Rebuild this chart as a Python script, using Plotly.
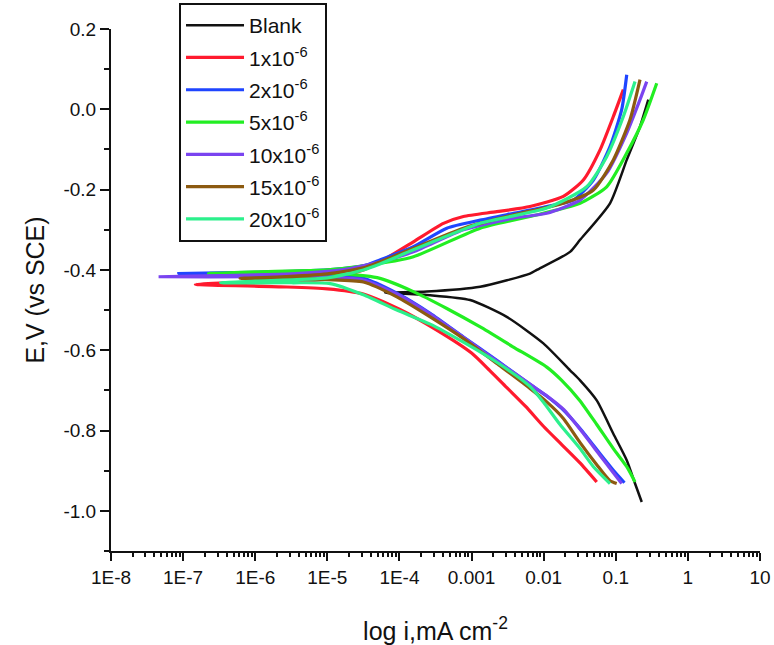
import numpy as np
import plotly.graph_objects as go

# Tafel curves: log10(i / mA cm^-2) and E (V vs SCE),
# ordered from the cathodic end, through Ecorr, up the anodic branch
blank_logi = [-0.64, -0.733, -0.848, -1.034, -1.264, -1.495, -1.634, -2.004, -2.512, -3.02, -3.574, -4.2,
              -3.62, -2.88, -2.19, -2.096, -1.634, -1.495, -1.08, -0.848, -0.664, -0.549]
blank_e = [-0.978, -0.932, -0.874, -0.808, -0.725, -0.675, -0.65, -0.583, -0.517, -0.475, -0.463, -0.457,
           -0.454, -0.442, -0.409, -0.40, -0.355, -0.325, -0.234, -0.126, -0.043, 0.024]

c1_logi = [-1.264, -1.5, -1.75, -2.0, -2.25, -2.5, -2.75, -3.0, -3.5, -4.0, -4.5, -5.0, -5.65, -6.83,
           -6.5, -5.5, -4.9, -4.5, -4.22, -3.806, -3.39, -3.113, -2.65, -2.19, -1.727, -1.45, -1.218, -1.034, -0.895]
c1_e = [-0.928, -0.88, -0.835, -0.79, -0.74, -0.695, -0.65, -0.607, -0.548, -0.498, -0.46, -0.447, -0.442, -0.436,
        -0.433, -0.43, -0.42, -0.40, -0.375, -0.33, -0.284, -0.267, -0.255, -0.242, -0.217, -0.176, -0.101, -0.018, 0.049]

c2_logi = [-0.88, -1.034, -1.218, -1.495, -1.75, -1.95, -2.19, -2.65, -3.113, -3.574, -4.036, -4.5, -5.0, -5.47, -7.06,
           -6.0, -5.0, -4.5, -4.27, -3.806, -3.343, -2.88, -2.42, -1.957, -1.588, -1.31, -1.08, -0.918, -0.848]
c2_e = [-0.93, -0.899, -0.858, -0.795, -0.745, -0.715, -0.685, -0.625, -0.567, -0.508, -0.458, -0.421, -0.412, -0.41, -0.409,
        -0.406, -0.40, -0.39, -0.375, -0.342, -0.296, -0.276, -0.259, -0.242, -0.226, -0.176, -0.093, -0.001, 0.086]

c5_logi = [-0.733, -0.848, -1.034, -1.264, -1.5, -1.75, -1.957, -2.42, -2.88, -3.343, -3.806, -4.27, -4.8, -5.5, -6.647,
           -6.0, -5.0, -4.5, -3.806, -2.88, -2.19, -1.495, -1.126, -0.848, -0.618, -0.432]
c5_e = [-0.928, -0.89, -0.845, -0.785, -0.725, -0.675, -0.642, -0.592, -0.542, -0.496, -0.454, -0.421, -0.41, -0.408, -0.409,
        -0.405, -0.40, -0.39, -0.367, -0.296, -0.267, -0.234, -0.193, -0.109, -0.026, 0.065]

c10_logi = [-0.918, -1.034, -1.218, -1.495, -1.72, -1.93, -2.17, -2.65, -3.113, -3.574, -4.036, -4.5, -5.0, -6.0, -7.34,
            -6.5, -5.5, -4.8, -4.27, -3.806, -3.113, -2.42, -1.957, -1.495, -1.126, -0.848, -0.664, -0.571]
c10_e = [-0.932, -0.905, -0.862, -0.797, -0.748, -0.717, -0.687, -0.627, -0.568, -0.51, -0.46, -0.425, -0.418, -0.417, -0.417,
         -0.414, -0.41, -0.40, -0.38, -0.355, -0.30, -0.271, -0.259, -0.226, -0.159, -0.059, 0.024, 0.069]

c15_logi = [-0.987, -1.08, -1.264, -1.495, -1.727, -1.95, -2.19, -2.65, -3.113, -3.574, -4.036, -4.5, -5.0, -5.5, -6.21,
            -5.7, -5.0, -4.5, -4.27, -3.806, -3.113, -2.42, -1.727, -1.31, -1.034, -0.803, -0.664]
c15_e = [-0.932, -0.925, -0.885, -0.83, -0.77, -0.73, -0.695, -0.633, -0.571, -0.517, -0.467, -0.43, -0.424, -0.421, -0.421,
         -0.418, -0.41, -0.395, -0.38, -0.346, -0.296, -0.263, -0.234, -0.201, -0.126, -0.026, 0.074]

c20_logi = [-1.08, -1.31, -1.495, -1.773, -2.0, -2.19, -2.65, -3.113, -3.574, -4.036, -4.5, -4.96, -5.5, -6.48,
            -6.0, -5.0, -4.5, -4.27, -3.806, -2.88, -1.957, -1.403, -1.126, -0.895, -0.733]
c20_e = [-0.932, -0.89, -0.845, -0.785, -0.73, -0.69, -0.63, -0.58, -0.535, -0.50, -0.462, -0.434, -0.432, -0.432,
         -0.428, -0.42, -0.40, -0.385, -0.35, -0.284, -0.246, -0.193, -0.118, -0.018, 0.069]

names = ["Blank", "1x10<sup>-6</sup>", "2x10<sup>-6</sup>", "5x10<sup>-6</sup>",
         "10x10<sup>-6</sup>", "15x10<sup>-6</sup>", "20x10<sup>-6</sup>"]
series = [(blank_logi, blank_e), (c1_logi, c1_e), (c2_logi, c2_e), (c5_logi, c5_e),
          (c10_logi, c10_e), (c15_logi, c15_e), (c20_logi, c20_e)]
colors = ["#111111", "#ff1a2e", "#1f45ff", "#22ee22", "#7a44f0", "#8c5a10", "#2cf08c"]

x_tickvals = [1e-8, 1e-7, 1e-6, 1e-5, 1e-4, 1e-3, 1e-2, 1e-1, 1, 10]
x_ticktext = ["1E-8", "1E-7", "1E-6", "1E-5", "1E-4", "0.001", "0.01", "0.1", "1", "10"]
y_tickvals = [0.2, 0.0, -0.2, -0.4, -0.6, -0.8, -1.0]
y_ticktext = ["0.2", "0.0", "-0.2", "-0.4", "-0.6", "-0.8", "-1.0"]

fig = go.Figure()
for k, (name, (lx, e), col) in enumerate(zip(names, series, colors)):
    fig.add_trace(go.Scatter(
        x=10 ** np.array(lx), y=e, mode="lines", name=name,
        legendgroup=str(k),
        line=dict(color=col, width=2.5 if k == 0 else 3.2, shape="spline", smoothing=0.6)))

minor_x = [m * 10.0 ** p for p in range(-8, 1) for m in range(2, 10)]

fig.update_layout(
    width=774, height=645,
    margin=dict(l=111, r=14, t=29, b=94, autoexpand=False),
    paper_bgcolor="white", plot_bgcolor="white",
    font=dict(family="Liberation Sans, Arial", color="#111111", size=19),
    showlegend=True,
    legend=dict(x=0.1048, y=1.0498, xanchor="left", yanchor="top",
                bgcolor="white", bordercolor="#111111", borderwidth=2,
                font=dict(size=21), tracegroupgap=2, itemwidth=58,
                entrywidth=72, entrywidthmode="pixels"),
)
fig.update_xaxes(
    type="log", range=[-8, 1], automargin=False,
    tickvals=x_tickvals, ticktext=x_ticktext,
    ticks="outside", ticklen=8, tickwidth=2, tickcolor="#111111",
    minor=dict(tickvals=minor_x, ticks="outside", ticklen=4, tickwidth=1.5, tickcolor="#111111"),
    showline=True, linecolor="#111111", linewidth=2,
    showgrid=False, zeroline=False,
    tickfont=dict(size=19),
    title=dict(text="log i,mA cm<sup>-2</sup>", font=dict(size=25), standoff=37),
)
fig.update_yaxes(
    range=[-1.1, 0.2], tickvals=y_tickvals, ticktext=y_ticktext, automargin=False,
    ticks="outside", ticklen=9, tickwidth=2, tickcolor="#111111",
    minor=dict(dtick=0.1, ticks="outside", ticklen=5, tickwidth=1.5, tickcolor="#111111"),
    showline=True, linecolor="#111111", linewidth=2,
    showgrid=False, zeroline=False,
    tickfont=dict(size=19),
    title=dict(text="E,V (vs SCE)", font=dict(size=25), standoff=12),
)

# drop the browser's default 8px page margin so the figure sits at the corner
fig.write_html("out.html", config={"displayModeBar": False},
               post_script="document.body.style.margin='0px';")
